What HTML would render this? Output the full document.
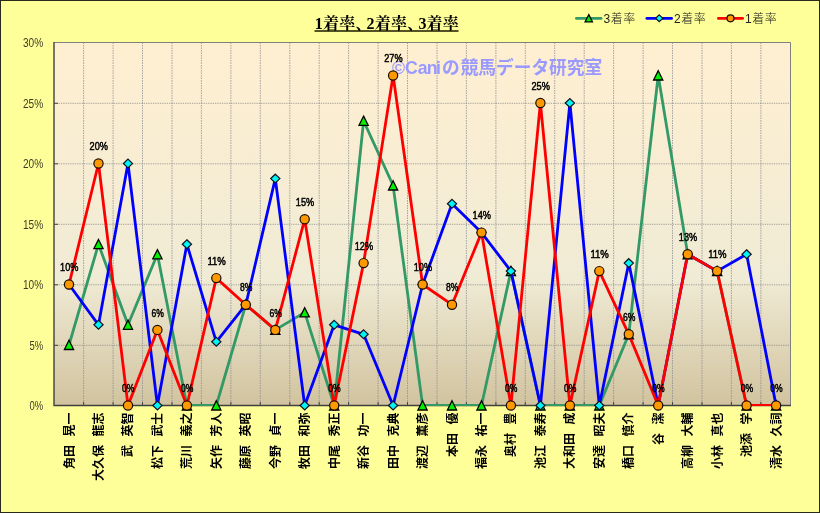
<!DOCTYPE html>
<html lang="ja">
<head>
<meta charset="utf-8">
<title>1着率、2着率、3着率</title>
<style>
html,body{margin:0;padding:0;background:#ffff99;overflow:hidden}
svg{display:block}
.ax{font-family:"Liberation Sans","Noto Sans CJK JP",sans-serif;font-size:12px;fill:#3d3d26}
.nm{font-family:"Liberation Sans","Noto Sans CJK JP",sans-serif;font-size:12px;font-weight:bold;fill:#000;word-spacing:5.2px}
.dl{font-family:"Liberation Sans","Noto Sans CJK JP",sans-serif;font-size:11px;font-weight:normal;fill:#000;stroke:#000;stroke-width:0.5px}
.lg{font-family:"Liberation Sans","Noto Sans CJK JP",sans-serif;font-size:12px;font-weight:300;fill:#222;letter-spacing:0.5px}
</style>
</head>
<body>
<svg width="820" height="513" viewBox="0 0 820 513">
<defs><linearGradient id="pg" x1="0" y1="0" x2="0" y2="1"><stop offset="0" stop-color="#ffefd1"/><stop offset="0.65" stop-color="#f0ebd5"/><stop offset="1" stop-color="#d1c39f"/></linearGradient><clipPath id="pc"><rect x="54.0" y="42.5" width="736.5" height="363.6"/></clipPath></defs>
<rect x="0" y="0" width="820" height="513" fill="#ffff99"/>
<rect x="0.5" y="0.5" width="819" height="512" fill="none" stroke="#2a2a1a" stroke-width="1"/>
<rect x="54.0" y="42.5" width="736.5" height="363.0" fill="url(#pg)"/>
<path d="M54.0 345.3H790.5M54.0 284.8H790.5M54.0 224.3H790.5M54.0 163.8H790.5M54.0 103.3H790.5" stroke="#808080" stroke-width="1" stroke-dasharray="1.3 1" fill="none" opacity="0.68"/>
<path d="M83.6 42.5V405.5M113.1 42.5V405.5M142.5 42.5V405.5M172.0 42.5V405.5M201.4 42.5V405.5M230.9 42.5V405.5M260.3 42.5V405.5M289.8 42.5V405.5M319.2 42.5V405.5M348.6 42.5V405.5M378.1 42.5V405.5M407.5 42.5V405.5M437.0 42.5V405.5M466.4 42.5V405.5M495.9 42.5V405.5M525.3 42.5V405.5M554.7 42.5V405.5M584.2 42.5V405.5M613.6 42.5V405.5M643.1 42.5V405.5M672.5 42.5V405.5M702.0 42.5V405.5M731.4 42.5V405.5M760.9 42.5V405.5" stroke="#8a8a90" stroke-width="1" stroke-dasharray="1.5 1" fill="none" opacity="0.75"/>
<path d="M54.0 345.3H58.0M54.0 284.8H58.0M54.0 224.3H58.0M54.0 163.8H58.0M54.0 103.3H58.0M83.6 402.0V405.5M113.1 402.0V405.5M142.5 402.0V405.5M172.0 402.0V405.5M201.4 402.0V405.5M230.9 402.0V405.5M260.3 402.0V405.5M289.8 402.0V405.5M319.2 402.0V405.5M348.6 402.0V405.5M378.1 402.0V405.5M407.5 402.0V405.5M437.0 402.0V405.5M466.4 402.0V405.5M495.9 402.0V405.5M525.3 402.0V405.5M554.7 402.0V405.5M584.2 402.0V405.5M613.6 402.0V405.5M643.1 402.0V405.5M672.5 402.0V405.5M702.0 402.0V405.5M731.4 402.0V405.5M760.9 402.0V405.5" stroke="#444" stroke-width="1" fill="none"/>
<path d="M54.0 42.5H790.5V405.5" stroke="#808080" stroke-width="1" fill="none"/>
<path d="M54.0 42.0V405.5H791.0" stroke="#404040" stroke-width="1.4" fill="none"/>
<text class="ax" x="43.2" y="410.4" text-anchor="end" textLength="13.6" lengthAdjust="spacingAndGlyphs">0%</text>
<text class="ax" x="43.2" y="349.9" text-anchor="end" textLength="13.6" lengthAdjust="spacingAndGlyphs">5%</text>
<text class="ax" x="43.2" y="289.4" text-anchor="end" textLength="20.2" lengthAdjust="spacingAndGlyphs">10%</text>
<text class="ax" x="43.2" y="228.9" text-anchor="end" textLength="20.2" lengthAdjust="spacingAndGlyphs">15%</text>
<text class="ax" x="43.2" y="168.4" text-anchor="end" textLength="20.2" lengthAdjust="spacingAndGlyphs">20%</text>
<text class="ax" x="43.2" y="107.9" text-anchor="end" textLength="20.2" lengthAdjust="spacingAndGlyphs">25%</text>
<text class="ax" x="43.2" y="47.4" text-anchor="end" textLength="20.2" lengthAdjust="spacingAndGlyphs">30%</text>
<text x="392" y="74.4" font-family='"Liberation Sans","Noto Sans CJK JP",sans-serif' font-size="17.7px" font-weight="bold" fill="#9999ff">©Ca<tspan dx="-1" letter-spacing="-1.5">ni</tspan><tspan dx="2.6">の</tspan><tspan dx="1.0">競馬データ研究室</tspan></text>
<polyline clip-path="url(#pc)" points="69.0,345.0 98.5,244.2 128.0,324.8 157.4,254.2 186.9,405.5 216.3,405.5 245.8,304.7 275.3,329.9 304.7,312.4 334.2,405.5 363.6,120.8 393.1,185.5 422.6,405.5 452.0,405.5 481.5,405.5 510.9,271.1 540.4,405.5 569.9,405.5 599.3,405.5 628.8,334.3 658.2,75.5 687.7,254.2 717.1,271.1 746.6,405.5 776.1,405.5" fill="none" stroke="#339966" stroke-width="2.8" stroke-linejoin="round" stroke-linecap="round"/>
<path d="M69.0 340.3L73.6 349.5L64.4 349.5Z" fill="#00f000" stroke="#000" stroke-width="1.3" stroke-linejoin="miter"/>
<path d="M98.5 239.5L103.1 248.7L93.9 248.7Z" fill="#00f000" stroke="#000" stroke-width="1.3" stroke-linejoin="miter"/>
<path d="M128.0 320.1L132.5 329.3L123.4 329.3Z" fill="#00f000" stroke="#000" stroke-width="1.3" stroke-linejoin="miter"/>
<path d="M157.4 249.6L162.0 258.8L152.8 258.8Z" fill="#00f000" stroke="#000" stroke-width="1.3" stroke-linejoin="miter"/>
<path d="M186.9 400.8L191.5 410.0L182.3 410.0Z" fill="#00f000" stroke="#000" stroke-width="1.3" stroke-linejoin="miter"/>
<path d="M216.3 400.8L220.9 410.0L211.7 410.0Z" fill="#00f000" stroke="#000" stroke-width="1.3" stroke-linejoin="miter"/>
<path d="M245.8 300.0L250.4 309.2L241.2 309.2Z" fill="#00f000" stroke="#000" stroke-width="1.3" stroke-linejoin="miter"/>
<path d="M275.3 325.2L279.9 334.4L270.7 334.4Z" fill="#00f000" stroke="#000" stroke-width="1.3" stroke-linejoin="miter"/>
<path d="M304.7 307.7L309.3 316.9L300.1 316.9Z" fill="#00f000" stroke="#000" stroke-width="1.3" stroke-linejoin="miter"/>
<path d="M334.2 400.8L338.8 410.0L329.6 410.0Z" fill="#00f000" stroke="#000" stroke-width="1.3" stroke-linejoin="miter"/>
<path d="M363.6 116.1L368.2 125.3L359.0 125.3Z" fill="#00f000" stroke="#000" stroke-width="1.3" stroke-linejoin="miter"/>
<path d="M393.1 180.8L397.7 190.0L388.5 190.0Z" fill="#00f000" stroke="#000" stroke-width="1.3" stroke-linejoin="miter"/>
<path d="M422.6 400.8L427.2 410.0L417.9 410.0Z" fill="#00f000" stroke="#000" stroke-width="1.3" stroke-linejoin="miter"/>
<path d="M452.0 400.8L456.6 410.0L447.4 410.0Z" fill="#00f000" stroke="#000" stroke-width="1.3" stroke-linejoin="miter"/>
<path d="M481.5 400.8L486.1 410.0L476.9 410.0Z" fill="#00f000" stroke="#000" stroke-width="1.3" stroke-linejoin="miter"/>
<path d="M510.9 266.4L515.5 275.6L506.3 275.6Z" fill="#00f000" stroke="#000" stroke-width="1.3" stroke-linejoin="miter"/>
<path d="M540.4 400.8L545.0 410.0L535.8 410.0Z" fill="#00f000" stroke="#000" stroke-width="1.3" stroke-linejoin="miter"/>
<path d="M569.9 400.8L574.5 410.0L565.2 410.0Z" fill="#00f000" stroke="#000" stroke-width="1.3" stroke-linejoin="miter"/>
<path d="M599.3 400.8L603.9 410.0L594.7 410.0Z" fill="#00f000" stroke="#000" stroke-width="1.3" stroke-linejoin="miter"/>
<path d="M628.8 329.6L633.4 338.8L624.2 338.8Z" fill="#00f000" stroke="#000" stroke-width="1.3" stroke-linejoin="miter"/>
<path d="M658.2 70.8L662.8 80.0L653.6 80.0Z" fill="#00f000" stroke="#000" stroke-width="1.3" stroke-linejoin="miter"/>
<path d="M687.7 249.6L692.3 258.8L683.1 258.8Z" fill="#00f000" stroke="#000" stroke-width="1.3" stroke-linejoin="miter"/>
<path d="M717.1 266.4L721.8 275.6L712.5 275.6Z" fill="#00f000" stroke="#000" stroke-width="1.3" stroke-linejoin="miter"/>
<path d="M746.6 400.8L751.2 410.0L742.0 410.0Z" fill="#00f000" stroke="#000" stroke-width="1.3" stroke-linejoin="miter"/>
<path d="M776.1 400.8L780.7 410.0L771.5 410.0Z" fill="#00f000" stroke="#000" stroke-width="1.3" stroke-linejoin="miter"/>
<polyline clip-path="url(#pc)" points="69.0,284.5 98.5,324.8 128.0,163.5 157.4,405.5 186.9,244.2 216.3,341.8 245.8,304.7 275.3,178.6 304.7,405.5 334.2,324.8 363.6,334.3 393.1,405.5 422.6,284.5 452.0,203.8 481.5,232.6 510.9,271.1 540.4,405.5 569.9,103.0 599.3,405.5 628.8,263.1 658.2,405.5 687.7,254.2 717.1,271.1 746.6,254.2 776.1,405.5" fill="none" stroke="#0000ff" stroke-width="2.8" stroke-linejoin="round" stroke-linecap="round"/>
<path d="M69.0 280.1L73.6 284.5L69.0 288.9L64.4 284.5Z" fill="#00f6f6" stroke="#101020" stroke-width="1.2"/>
<path d="M98.5 320.4L103.1 324.8L98.5 329.2L93.9 324.8Z" fill="#00f6f6" stroke="#101020" stroke-width="1.2"/>
<path d="M128.0 159.1L132.5 163.5L128.0 167.9L123.4 163.5Z" fill="#00f6f6" stroke="#101020" stroke-width="1.2"/>
<path d="M157.4 401.1L162.0 405.5L157.4 409.9L152.8 405.5Z" fill="#00f6f6" stroke="#101020" stroke-width="1.2"/>
<path d="M186.9 239.8L191.5 244.2L186.9 248.6L182.3 244.2Z" fill="#00f6f6" stroke="#101020" stroke-width="1.2"/>
<path d="M216.3 337.4L220.9 341.8L216.3 346.2L211.7 341.8Z" fill="#00f6f6" stroke="#101020" stroke-width="1.2"/>
<path d="M245.8 300.3L250.4 304.7L245.8 309.1L241.2 304.7Z" fill="#00f6f6" stroke="#101020" stroke-width="1.2"/>
<path d="M275.3 174.2L279.9 178.6L275.3 183.0L270.7 178.6Z" fill="#00f6f6" stroke="#101020" stroke-width="1.2"/>
<path d="M304.7 401.1L309.3 405.5L304.7 409.9L300.1 405.5Z" fill="#00f6f6" stroke="#101020" stroke-width="1.2"/>
<path d="M334.2 320.4L338.8 324.8L334.2 329.2L329.6 324.8Z" fill="#00f6f6" stroke="#101020" stroke-width="1.2"/>
<path d="M363.6 329.9L368.2 334.3L363.6 338.7L359.0 334.3Z" fill="#00f6f6" stroke="#101020" stroke-width="1.2"/>
<path d="M393.1 401.1L397.7 405.5L393.1 409.9L388.5 405.5Z" fill="#00f6f6" stroke="#101020" stroke-width="1.2"/>
<path d="M422.6 280.1L427.2 284.5L422.6 288.9L417.9 284.5Z" fill="#00f6f6" stroke="#101020" stroke-width="1.2"/>
<path d="M452.0 199.4L456.6 203.8L452.0 208.2L447.4 203.8Z" fill="#00f6f6" stroke="#101020" stroke-width="1.2"/>
<path d="M481.5 228.2L486.1 232.6L481.5 237.0L476.9 232.6Z" fill="#00f6f6" stroke="#101020" stroke-width="1.2"/>
<path d="M510.9 266.7L515.5 271.1L510.9 275.5L506.3 271.1Z" fill="#00f6f6" stroke="#101020" stroke-width="1.2"/>
<path d="M540.4 401.1L545.0 405.5L540.4 409.9L535.8 405.5Z" fill="#00f6f6" stroke="#101020" stroke-width="1.2"/>
<path d="M569.9 98.6L574.5 103.0L569.9 107.4L565.2 103.0Z" fill="#00f6f6" stroke="#101020" stroke-width="1.2"/>
<path d="M599.3 401.1L603.9 405.5L599.3 409.9L594.7 405.5Z" fill="#00f6f6" stroke="#101020" stroke-width="1.2"/>
<path d="M628.8 258.7L633.4 263.1L628.8 267.5L624.2 263.1Z" fill="#00f6f6" stroke="#101020" stroke-width="1.2"/>
<path d="M658.2 401.1L662.8 405.5L658.2 409.9L653.6 405.5Z" fill="#00f6f6" stroke="#101020" stroke-width="1.2"/>
<path d="M687.7 249.8L692.3 254.2L687.7 258.6L683.1 254.2Z" fill="#00f6f6" stroke="#101020" stroke-width="1.2"/>
<path d="M717.1 266.7L721.8 271.1L717.1 275.5L712.5 271.1Z" fill="#00f6f6" stroke="#101020" stroke-width="1.2"/>
<path d="M746.6 249.8L751.2 254.2L746.6 258.6L742.0 254.2Z" fill="#00f6f6" stroke="#101020" stroke-width="1.2"/>
<path d="M776.1 401.1L780.7 405.5L776.1 409.9L771.5 405.5Z" fill="#00f6f6" stroke="#101020" stroke-width="1.2"/>
<polyline clip-path="url(#pc)" points="69.0,284.5 98.5,163.5 128.0,405.5 157.4,329.9 186.9,405.5 216.3,278.1 245.8,304.7 275.3,329.9 304.7,219.3 334.2,405.5 363.6,263.1 393.1,75.5 422.6,284.5 452.0,304.7 481.5,232.6 510.9,405.5 540.4,103.0 569.9,405.5 599.3,271.1 628.8,334.3 658.2,405.5 687.7,254.2 717.1,271.1 746.6,405.5 776.1,405.5" fill="none" stroke="#ff0000" stroke-width="2.8" stroke-linejoin="round" stroke-linecap="round"/>
<circle cx="69.0" cy="284.5" r="4.6" fill="#ff9900" stroke="#1a0d00" stroke-width="1.2"/>
<circle cx="98.5" cy="163.5" r="4.6" fill="#ff9900" stroke="#1a0d00" stroke-width="1.2"/>
<circle cx="128.0" cy="405.5" r="4.6" fill="#ff9900" stroke="#1a0d00" stroke-width="1.2"/>
<circle cx="157.4" cy="329.9" r="4.6" fill="#ff9900" stroke="#1a0d00" stroke-width="1.2"/>
<circle cx="186.9" cy="405.5" r="4.6" fill="#ff9900" stroke="#1a0d00" stroke-width="1.2"/>
<circle cx="216.3" cy="278.1" r="4.6" fill="#ff9900" stroke="#1a0d00" stroke-width="1.2"/>
<circle cx="245.8" cy="304.7" r="4.6" fill="#ff9900" stroke="#1a0d00" stroke-width="1.2"/>
<circle cx="275.3" cy="329.9" r="4.6" fill="#ff9900" stroke="#1a0d00" stroke-width="1.2"/>
<circle cx="304.7" cy="219.3" r="4.6" fill="#ff9900" stroke="#1a0d00" stroke-width="1.2"/>
<circle cx="334.2" cy="405.5" r="4.6" fill="#ff9900" stroke="#1a0d00" stroke-width="1.2"/>
<circle cx="363.6" cy="263.1" r="4.6" fill="#ff9900" stroke="#1a0d00" stroke-width="1.2"/>
<circle cx="393.1" cy="75.5" r="4.6" fill="#ff9900" stroke="#1a0d00" stroke-width="1.2"/>
<circle cx="422.6" cy="284.5" r="4.6" fill="#ff9900" stroke="#1a0d00" stroke-width="1.2"/>
<circle cx="452.0" cy="304.7" r="4.6" fill="#ff9900" stroke="#1a0d00" stroke-width="1.2"/>
<circle cx="481.5" cy="232.6" r="4.6" fill="#ff9900" stroke="#1a0d00" stroke-width="1.2"/>
<circle cx="510.9" cy="405.5" r="4.6" fill="#ff9900" stroke="#1a0d00" stroke-width="1.2"/>
<circle cx="540.4" cy="103.0" r="4.6" fill="#ff9900" stroke="#1a0d00" stroke-width="1.2"/>
<circle cx="569.9" cy="405.5" r="4.6" fill="#ff9900" stroke="#1a0d00" stroke-width="1.2"/>
<circle cx="599.3" cy="271.1" r="4.6" fill="#ff9900" stroke="#1a0d00" stroke-width="1.2"/>
<circle cx="628.8" cy="334.3" r="4.6" fill="#ff9900" stroke="#1a0d00" stroke-width="1.2"/>
<circle cx="658.2" cy="405.5" r="4.6" fill="#ff9900" stroke="#1a0d00" stroke-width="1.2"/>
<circle cx="687.7" cy="254.2" r="4.6" fill="#ff9900" stroke="#1a0d00" stroke-width="1.2"/>
<circle cx="717.1" cy="271.1" r="4.6" fill="#ff9900" stroke="#1a0d00" stroke-width="1.2"/>
<circle cx="746.6" cy="405.5" r="4.6" fill="#ff9900" stroke="#1a0d00" stroke-width="1.2"/>
<circle cx="776.1" cy="405.5" r="4.6" fill="#ff9900" stroke="#1a0d00" stroke-width="1.2"/>
<text class="dl" x="69.3" y="271.1" text-anchor="middle" textLength="18.4" lengthAdjust="spacingAndGlyphs">10%</text>
<text class="dl" x="98.8" y="150.1" text-anchor="middle" textLength="18.4" lengthAdjust="spacingAndGlyphs">20%</text>
<text class="dl" x="128.2" y="392.1" text-anchor="middle" textLength="12.4" lengthAdjust="spacingAndGlyphs">0%</text>
<text class="dl" x="157.7" y="316.5" text-anchor="middle" textLength="12.4" lengthAdjust="spacingAndGlyphs">6%</text>
<text class="dl" x="187.2" y="392.1" text-anchor="middle" textLength="12.4" lengthAdjust="spacingAndGlyphs">0%</text>
<text class="dl" x="216.6" y="264.7" text-anchor="middle" textLength="18.4" lengthAdjust="spacingAndGlyphs">11%</text>
<text class="dl" x="246.1" y="291.3" text-anchor="middle" textLength="12.4" lengthAdjust="spacingAndGlyphs">8%</text>
<text class="dl" x="275.6" y="316.5" text-anchor="middle" textLength="12.4" lengthAdjust="spacingAndGlyphs">6%</text>
<text class="dl" x="305.0" y="205.9" text-anchor="middle" textLength="18.4" lengthAdjust="spacingAndGlyphs">15%</text>
<text class="dl" x="334.5" y="392.1" text-anchor="middle" textLength="12.4" lengthAdjust="spacingAndGlyphs">0%</text>
<text class="dl" x="363.9" y="249.7" text-anchor="middle" textLength="18.4" lengthAdjust="spacingAndGlyphs">12%</text>
<text class="dl" x="393.4" y="62.1" text-anchor="middle" textLength="18.4" lengthAdjust="spacingAndGlyphs">27%</text>
<text class="dl" x="422.9" y="271.1" text-anchor="middle" textLength="18.4" lengthAdjust="spacingAndGlyphs">10%</text>
<text class="dl" x="452.3" y="291.3" text-anchor="middle" textLength="12.4" lengthAdjust="spacingAndGlyphs">8%</text>
<text class="dl" x="481.8" y="219.2" text-anchor="middle" textLength="18.4" lengthAdjust="spacingAndGlyphs">14%</text>
<text class="dl" x="511.2" y="392.1" text-anchor="middle" textLength="12.4" lengthAdjust="spacingAndGlyphs">0%</text>
<text class="dl" x="540.7" y="89.6" text-anchor="middle" textLength="18.4" lengthAdjust="spacingAndGlyphs">25%</text>
<text class="dl" x="570.1" y="392.1" text-anchor="middle" textLength="12.4" lengthAdjust="spacingAndGlyphs">0%</text>
<text class="dl" x="599.6" y="257.7" text-anchor="middle" textLength="18.4" lengthAdjust="spacingAndGlyphs">11%</text>
<text class="dl" x="629.1" y="320.9" text-anchor="middle" textLength="12.4" lengthAdjust="spacingAndGlyphs">6%</text>
<text class="dl" x="658.5" y="392.1" text-anchor="middle" textLength="12.4" lengthAdjust="spacingAndGlyphs">0%</text>
<text class="dl" x="688.0" y="240.8" text-anchor="middle" textLength="18.4" lengthAdjust="spacingAndGlyphs">13%</text>
<text class="dl" x="717.4" y="257.7" text-anchor="middle" textLength="18.4" lengthAdjust="spacingAndGlyphs">11%</text>
<text class="dl" x="746.9" y="392.1" text-anchor="middle" textLength="12.4" lengthAdjust="spacingAndGlyphs">0%</text>
<text class="dl" x="776.4" y="392.1" text-anchor="middle" textLength="12.4" lengthAdjust="spacingAndGlyphs">0%</text>
<text x="314.8" y="29" font-family='"Liberation Serif","Noto Serif CJK JP","Noto Serif CJK SC",serif' font-size="16px" font-weight="bold" fill="#000" letter-spacing="0.2">1着率<tspan letter-spacing="-4.8">、</tspan>2着率<tspan letter-spacing="-4.8">、</tspan>3着率</text>
<path d="M314.5 31H458.5" stroke="#1a1a00" stroke-width="1.3"/>
<path d="M576.4 18.4H601.1" stroke="#339966" stroke-width="2.8" stroke-linecap="round"/>
<path d="M588.8 14.6L592.4 21.8L585.1 21.8Z" fill="#00f000" stroke="#000" stroke-width="1.3" stroke-linejoin="miter"/>
<text class="lg" x="603.5" y="23">3着率</text>
<path d="M646.9 18.4H671.6" stroke="#0000ff" stroke-width="2.8" stroke-linecap="round"/>
<path d="M659.2 14.9L662.9 18.3L659.2 21.7L655.6 18.3Z" fill="#00f6f6" stroke="#101020" stroke-width="1.2"/>
<text class="lg" x="674.0" y="23">2着率</text>
<path d="M718.4 18.4H742.6" stroke="#ff0000" stroke-width="2.8" stroke-linecap="round"/>
<circle cx="730.5" cy="18.3" r="3.5" fill="#ff9900" stroke="#1a0d00" stroke-width="1.2"/>
<text class="lg" x="745.0" y="23">1着率</text>
<text class="nm" transform="translate(73.5,412.5) rotate(-90)" text-anchor="end" xml:space="preserve">角田 晃一</text>
<text class="nm" transform="translate(103.0,412.5) rotate(-90)" text-anchor="end" xml:space="preserve">大久保 龍志</text>
<text class="nm" transform="translate(132.4,412.5) rotate(-90)" text-anchor="end" xml:space="preserve">武 英智</text>
<text class="nm" transform="translate(161.9,412.5) rotate(-90)" text-anchor="end" xml:space="preserve">松下 武士</text>
<text class="nm" transform="translate(191.4,412.5) rotate(-90)" text-anchor="end" xml:space="preserve">荒川 義之</text>
<text class="nm" transform="translate(220.8,412.5) rotate(-90)" text-anchor="end" xml:space="preserve">矢作 芳人</text>
<text class="nm" transform="translate(250.3,412.5) rotate(-90)" text-anchor="end" xml:space="preserve">藤原 英昭</text>
<text class="nm" transform="translate(279.8,412.5) rotate(-90)" text-anchor="end" xml:space="preserve">今野 貞一</text>
<text class="nm" transform="translate(309.2,412.5) rotate(-90)" text-anchor="end" xml:space="preserve">牧田 和弥</text>
<text class="nm" transform="translate(338.7,412.5) rotate(-90)" text-anchor="end" xml:space="preserve">中尾 秀正</text>
<text class="nm" transform="translate(368.1,412.5) rotate(-90)" text-anchor="end" xml:space="preserve">新谷 功一</text>
<text class="nm" transform="translate(397.6,412.5) rotate(-90)" text-anchor="end" xml:space="preserve">田中 克典</text>
<text class="nm" transform="translate(427.1,412.5) rotate(-90)" text-anchor="end" xml:space="preserve">渡辺 薫彦</text>
<text class="nm" transform="translate(456.5,412.5) rotate(-90)" text-anchor="end" xml:space="preserve">本田 優</text>
<text class="nm" transform="translate(486.0,412.5) rotate(-90)" text-anchor="end" xml:space="preserve">福永 祐一</text>
<text class="nm" transform="translate(515.4,412.5) rotate(-90)" text-anchor="end" xml:space="preserve">奥村 豊</text>
<text class="nm" transform="translate(544.9,412.5) rotate(-90)" text-anchor="end" xml:space="preserve">池江 泰寿</text>
<text class="nm" transform="translate(574.4,412.5) rotate(-90)" text-anchor="end" xml:space="preserve">大和田 成</text>
<text class="nm" transform="translate(603.8,412.5) rotate(-90)" text-anchor="end" xml:space="preserve">安達 昭夫</text>
<text class="nm" transform="translate(633.3,412.5) rotate(-90)" text-anchor="end" xml:space="preserve">橋口 慎介</text>
<text class="nm" transform="translate(662.7,412.5) rotate(-90)" text-anchor="end" xml:space="preserve">谷 潔</text>
<text class="nm" transform="translate(692.2,412.5) rotate(-90)" text-anchor="end" xml:space="preserve">高柳 大輔</text>
<text class="nm" transform="translate(721.6,412.5) rotate(-90)" text-anchor="end" xml:space="preserve">小林 真也</text>
<text class="nm" transform="translate(751.1,412.5) rotate(-90)" text-anchor="end" xml:space="preserve">池添 学</text>
<text class="nm" transform="translate(780.6,412.5) rotate(-90)" text-anchor="end" xml:space="preserve">清水 久詞</text>
</svg>
</body>
</html>
